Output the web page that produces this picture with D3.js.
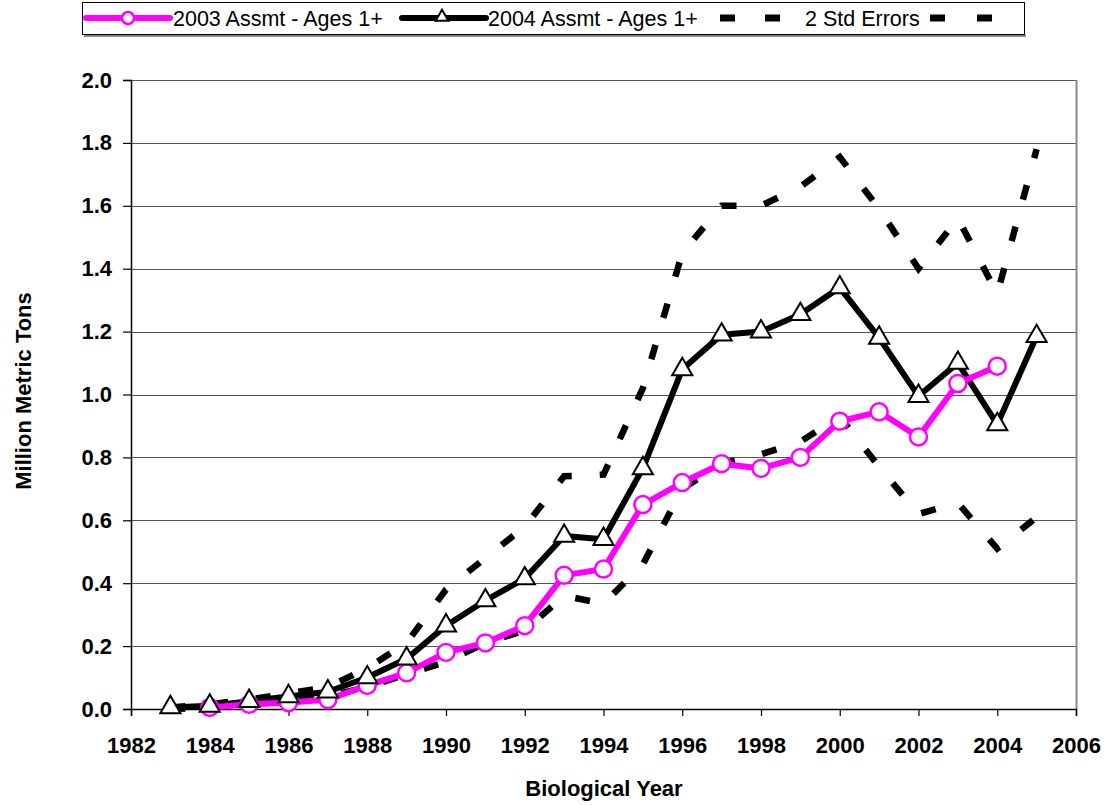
<!DOCTYPE html>
<html>
<head>
<meta charset="utf-8">
<script src="https://cdn.jsdelivr.net/npm/d3@7"></script>
<style>
  body { margin: 0; background: #fff; }
  svg { display: block; font-family: "Liberation Sans", Arial, sans-serif; }
</style>
</head>
<body>
<div id="chart"></div>
<script>
/*///////////////////////////////////////////////////////////
//Data
///////////////////////////////////////////////////////////*/
var years2004 = d3.range(1983, 2006);
var assmt2004 = [0.005, 0.01, 0.025, 0.04, 0.055, 0.10, 0.16, 0.265, 0.345, 0.415, 0.55, 0.54,
	0.765, 1.08, 1.19, 1.20, 1.255, 1.34, 1.18, 0.995, 1.10, 0.905, 1.185];

var years2003 = d3.range(1984, 2005);
var assmt2003 = [0.005, 0.015, 0.02, 0.03, 0.075, 0.115, 0.18, 0.21, 0.265, 0.425, 0.445,
	0.65, 0.72, 0.78, 0.765, 0.80, 0.915, 0.945, 0.865, 1.035, 1.09];

var upperSE = [0.005, 0.015, 0.03, 0.05, 0.07, 0.13, 0.21, 0.38, 0.48, 0.58, 0.74, 0.745,
	1.02, 1.45, 1.60, 1.60, 1.66, 1.755, 1.59, 1.40, 1.56, 1.32, 1.78];
var lowerSE = [0.0, 0.005, 0.015, 0.025, 0.04, 0.07, 0.11, 0.15, 0.21, 0.25, 0.36, 0.335,
	0.46, 0.70, 0.78, 0.81, 0.85, 0.93, 0.77, 0.62, 0.655, 0.51, 0.61];

var xTicks = d3.range(1982, 2007, 2);
var yTicks = d3.range(0, 11).map(function(i) { return i * 0.2; });

var legendNames = ["2003 Assmt - Ages 1+", "2004 Assmt - Ages 1+", "2 Std Errors"];

/*///////////////////////////////////////////////////////////
//Set-up
///////////////////////////////////////////////////////////*/
var width = 1116, height = 805;
var magenta = "#ff00ff";

var svg = d3.select("#chart").append("svg")
	.attr("width", width)
	.attr("height", height);

var x = d3.scaleLinear().domain([1982, 2006]).range([131, 1076]);
var y = d3.scaleLinear().domain([0, 2]).range([709, 80]);

/*Gridlines*/
svg.append("g")
	.selectAll("line")
	.data(yTicks.filter(function(d) { return d > 0; }))
	.enter().append("line")
	.attr("x1", x(1982))
	.attr("x2", x(2006))
	.attr("y1", function(d) { return Math.round(y(d)) + 0.5; })
	.attr("y2", function(d) { return Math.round(y(d)) + 0.5; })
	.style("stroke", "#555")
	.style("stroke-width", 1.2);

/*Right border*/
svg.append("line")
	.attr("x1", x(2006) + 0.5).attr("x2", x(2006) + 0.5)
	.attr("y1", y(2)).attr("y2", y(0))
	.style("stroke", "#888")
	.style("stroke-width", 2);

/*Axes*/
var yAxis = svg.append("g")
	.attr("transform", "translate(" + x(1982) + ",0)")
	.call(d3.axisLeft(y).tickValues(yTicks).tickFormat(d3.format(".1f")).tickSize(8).tickPadding(11));

var xAxis = svg.append("g")
	.attr("transform", "translate(0," + y(0) + ")")
	.call(d3.axisBottom(x).tickValues(xTicks).tickFormat(d3.format("d")).tickSize(7).tickPadding(21));

[yAxis, xAxis].forEach(function(a) {
	a.select(".domain").style("stroke", "#000").style("stroke-width", 1.5);
	a.selectAll(".tick line").style("stroke", "#000").style("stroke-width", 1.2);
	a.selectAll("text")
		.style("font-size", "22px")
		.style("font-weight", "bold")
		.style("fill", "#000")
		.style("font-family", "Liberation Sans, Arial, sans-serif");
});

/*Axis titles*/
svg.append("text")
	.attr("text-anchor", "middle")
	.attr("x", 604)
	.attr("y", 796)
	.style("font-size", "22px")
	.style("font-weight", "bold")
	.text("Biological Year");

svg.append("text")
	.attr("text-anchor", "middle")
	.attr("transform", "translate(31,391) rotate(-90)")
	.style("font-size", "22px")
	.style("font-weight", "bold")
	.text("Million Metric Tons");

/*///////////////////////////////////////////////////////////
//Series
///////////////////////////////////////////////////////////*/
var line = d3.line()
	.x(function(d) { return x(d[0]); })
	.y(function(d) { return y(d[1]); });

var dash = "15,28";

[upperSE, lowerSE].forEach(function(s) {
	svg.append("path")
		.datum(d3.zip(years2004, s))
		.attr("d", line)
		.style("fill", "none")
		.style("stroke", "#000")
		.style("stroke-width", 6.5)
		.style("stroke-dasharray", dash);
});

var data2004 = d3.zip(years2004, assmt2004);
var data2003 = d3.zip(years2003, assmt2003);

svg.append("path")
	.datum(data2004)
	.attr("d", line)
	.style("fill", "none")
	.style("stroke", "#000")
	.style("stroke-width", 6)
	.style("stroke-linejoin", "round");

svg.append("path")
	.datum(data2003)
	.attr("d", line)
	.style("fill", "none")
	.style("stroke", magenta)
	.style("stroke-width", 6)
	.style("stroke-linejoin", "round");

var tri = d3.symbol().type(d3.symbolTriangle).size(175);

svg.append("g")
	.selectAll("circle")
	.data(data2003)
	.enter().append("circle")
	.attr("cx", function(d) { return x(d[0]); })
	.attr("cy", function(d) { return y(d[1]); })
	.attr("r", 8.5)
	.style("fill", "#fff")
	.style("stroke", magenta)
	.style("stroke-width", 2.5);

svg.append("g")
	.selectAll("path")
	.data(data2004)
	.enter().append("path")
	.attr("d", tri)
	.attr("transform", function(d) { return "translate(" + x(d[0]) + "," + y(d[1]) + ")"; })
	.style("fill", "#fff")
	.style("stroke", "#000")
	.style("stroke-width", 2);

/*///////////////////////////////////////////////////////////
//Legend
///////////////////////////////////////////////////////////*/
var legend = svg.append("g");

legend.append("line")
	.attr("x1", 84).attr("x2", 1026).attr("y1", 36).attr("y2", 36)
	.style("stroke", "#888").style("stroke-width", 2);
legend.append("rect")
	.attr("x", 82.5).attr("y", 2.5)
	.attr("width", 942).attr("height", 32)
	.style("fill", "#fff")
	.style("stroke", "#000")
	.style("stroke-width", 1);

var legY = 18;

legend.append("line")
	.attr("x1", 86).attr("x2", 170).attr("y1", legY).attr("y2", legY)
	.style("stroke", magenta).style("stroke-width", 6).style("stroke-linecap", "round");
legend.append("circle")
	.attr("cx", 128).attr("cy", legY).attr("r", 6)
	.style("fill", "#fff").style("stroke", magenta).style("stroke-width", 2.5);

legend.append("line")
	.attr("x1", 402).attr("x2", 486).attr("y1", legY).attr("y2", legY)
	.style("stroke", "#000").style("stroke-width", 6).style("stroke-linecap", "round");
legend.append("path")
	.attr("d", d3.symbol().type(d3.symbolTriangle).size(70))
	.attr("transform", "translate(442," + (legY - 1) + ")")
	.style("fill", "#fff").style("stroke", "#000").style("stroke-width", 2);

[720, 765, 930, 977].forEach(function(d) {
	legend.append("rect")
		.attr("x", d).attr("y", legY - 3.5)
		.attr("width", 15).attr("height", 7)
		.style("fill", "#000");
});

legend.selectAll("text.leg")
	.data(legendNames)
	.enter().append("text")
	.attr("class", "leg")
	.attr("x", function(d, i) { return [173, 488, 805][i]; })
	.attr("y", legY + 8)
	.style("font-size", "21.5px")
	.text(function(d) { return d; });
</script>
</body>
</html>
